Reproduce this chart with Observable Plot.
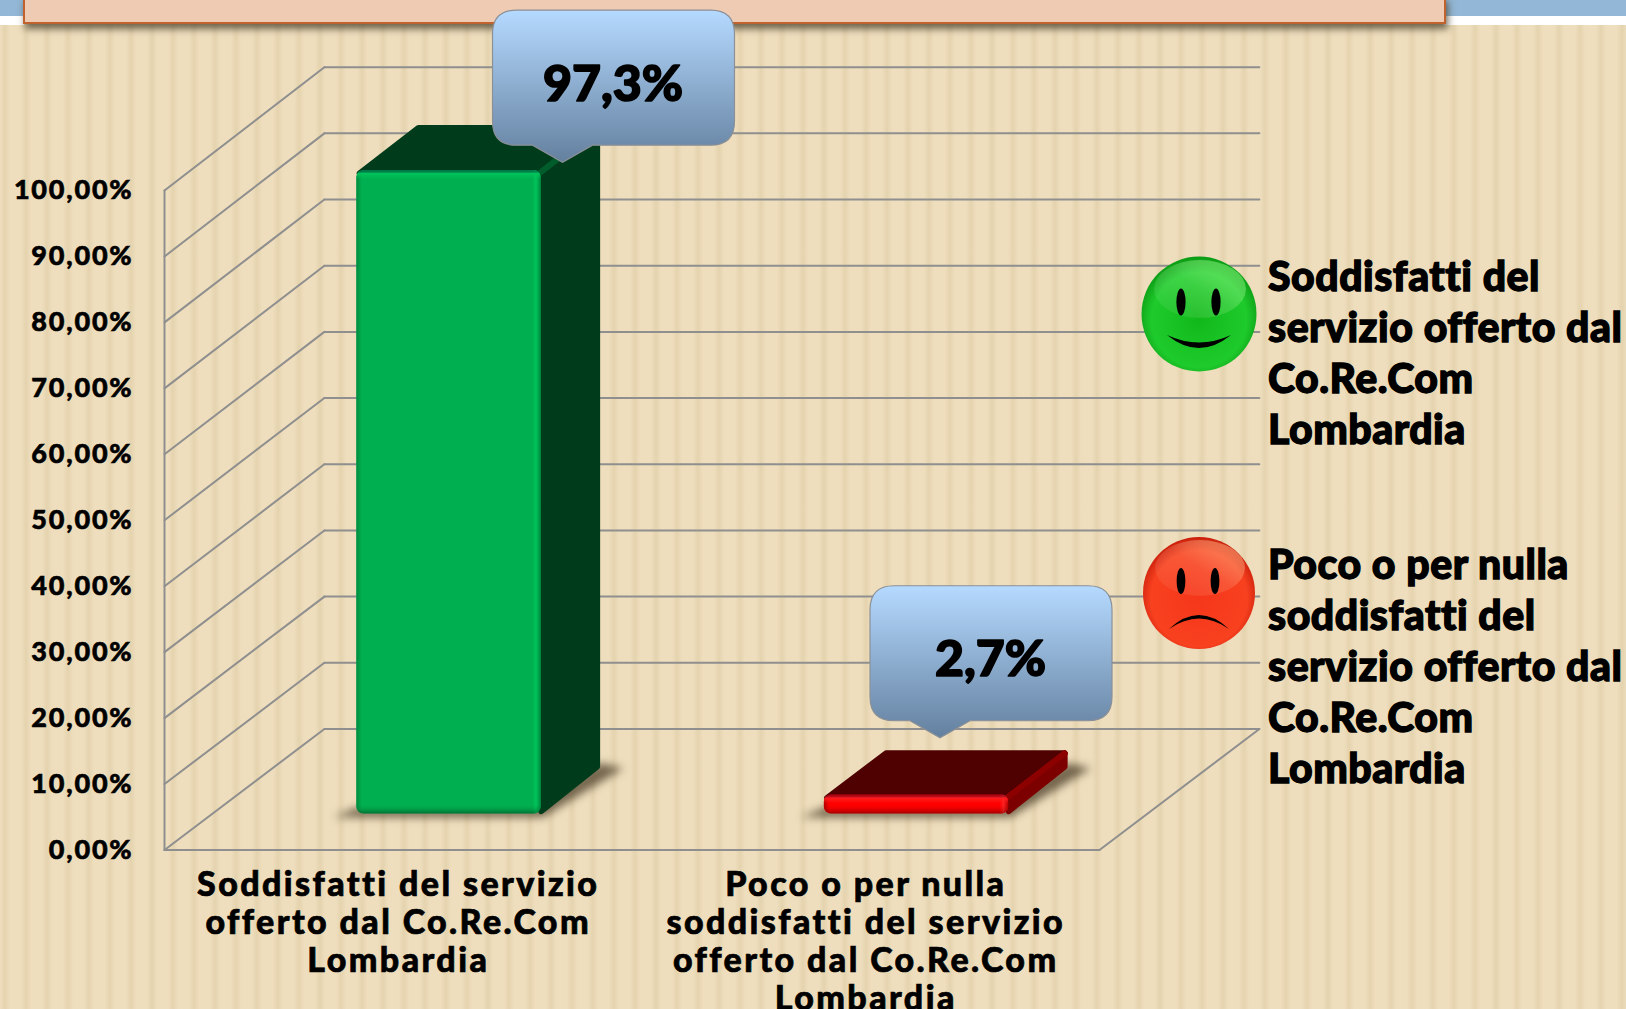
<!DOCTYPE html>
<html lang="it">
<head>
<meta charset="utf-8">
<script src="https://cdn.jsdelivr.net/npm/d3@7"></script>
<script src="https://cdn.jsdelivr.net/npm/@observablehq/plot@0.6"></script>
<style>
html,body{margin:0;padding:0;}
#page{position:relative;width:1626px;height:1009px;overflow:hidden;
  background-color:#eedebd;
  background-image:repeating-linear-gradient(90deg,rgba(208,186,140,0) 0,rgba(208,186,140,.30) 5px,rgba(208,186,140,0) 10px,rgba(208,186,140,0) 21px);}
#stripL,#stripR{position:absolute;top:0;height:16px;background:#93b7d6;border-bottom:9px solid #fff;}
#stripL{left:0;width:24px;} #stripR{left:1444px;right:0;}
#header{position:absolute;left:23px;top:-4px;width:1419px;height:24px;background:#efcbb4;border:2px solid #c0622d;box-shadow:2px 5px 7px rgba(70,60,40,.75);}
#chart{position:absolute;left:0;top:0;}
.legend{position:absolute;left:1268px;font:900 41px/51px Lato,sans-serif;color:#000;white-space:pre;-webkit-text-stroke:1.3px #000;letter-spacing:.5px;}
.face{position:absolute;}
g[aria-label="y-axis tick label"] text{letter-spacing:1.8px;stroke:#000;stroke-width:.6px;}
g[aria-label="x-axis tick label"] text{letter-spacing:2.4px;stroke:#000;stroke-width:.7px;}
</style>
</head>
<body>
<div id="page">
  <div id="stripL"></div><div id="stripR"></div><div id="header"></div>
  <div id="chart"></div>
  <svg class="face" style="left:1139px;top:254px" width="120" height="120" viewBox="-60 -60 120 120">
    <defs>
      <radialGradient id="gGreen" cx="50%" cy="55%" r="55%"><stop offset="0" stop-color="#12b81a"/><stop offset=".75" stop-color="#1ecb2c"/><stop offset="1" stop-color="#0c9a14"/></radialGradient>
      <linearGradient id="hlG" x1="0" y1="1" x2="1" y2="0"><stop offset="0" stop-color="#fff" stop-opacity=".03"/><stop offset=".5" stop-color="#d0ffc0" stop-opacity=".18"/><stop offset="1" stop-color="#80ff70" stop-opacity=".6"/></linearGradient>
    </defs>
    <circle r="57.5" fill="url(#gGreen)"/>
    <ellipse cx="1" cy="-25" rx="46" ry="29" fill="url(#hlG)"/>
    <ellipse cx="-18" cy="-12" rx="4.6" ry="13.5" fill="#000"/>
    <ellipse cx="17" cy="-12" rx="4.6" ry="13.5" fill="#000"/>
    <path d="M-32,21 Q0,47 32,21 Q0,36 -32,21Z" fill="#000"/>
  </svg>
  <svg class="face" style="left:1139px;top:533px" width="120" height="120" viewBox="-60 -60 120 120">
    <defs>
      <radialGradient id="gRed" cx="50%" cy="55%" r="55%"><stop offset="0" stop-color="#f5361a"/><stop offset=".78" stop-color="#f8411f"/><stop offset="1" stop-color="#c91f0c"/></radialGradient>
      <linearGradient id="hlR" x1="0" y1="1" x2="1" y2="0"><stop offset="0" stop-color="#fff" stop-opacity=".03"/><stop offset=".5" stop-color="#ffd0b0" stop-opacity=".16"/><stop offset="1" stop-color="#ffc080" stop-opacity=".6"/></linearGradient>
    </defs>
    <circle r="56" fill="url(#gRed)"/>
    <ellipse cx="1" cy="-25" rx="45" ry="28" fill="url(#hlR)"/>
    <ellipse cx="-18" cy="-12" rx="4.4" ry="13" fill="#000"/>
    <ellipse cx="16" cy="-12" rx="4.4" ry="13" fill="#000"/>
    <path d="M-30,36 Q0,8 30,36 Q0,15 -30,36Z" fill="#000"/>
  </svg>
  <div class="legend" id="leg1" style="top:250px"></div>
  <div class="legend" id="leg2" style="top:538px"></div>
</div>
<script>
// ---- data ----
const categories = [
  "Soddisfatti del servizio\nofferto dal Co.Re.Com\nLombardia",
  "Poco o per nulla\nsoddisfatti del servizio\nofferto dal Co.Re.Com\nLombardia"
];
const values = [97.3, 2.7];
const valueLabels = ["97,3%", "2,7%"];
const yTicks = [0, 10, 20, 30, 40, 50, 60, 70, 80, 90, 100];
const legendTexts = [
  "Soddisfatti del\nservizio offerto dal\nCo.Re.Com\nLombardia",
  "Poco o per nulla\nsoddisfatti del\nservizio offerto dal\nCo.Re.Com\nLombardia"
];

document.getElementById("leg1").textContent = legendTexts[0];
document.getElementById("leg2").textContent = legendTexts[1];

// ---- oblique projection: category, value, depth (0 front wall .. 1 back wall) ----
const DX = 0.342, DY = 18.35;
const proj = (c, v, d) => ({x: c + d * DX, y: v * (1 + 0.0035 * d) + d * DY});
const D0 = 0.297, D1 = 0.665, HALF = 0.197, SHIFT = 0.007, BEVEL = 0.2;
const INK = "#8f8f8f";
const FONT = "Lato, sans-serif";

const poly = (pts, fill, opts = {}) =>
  Plot.line(pts, {x: "x", y: "y", curve: "linear-closed", fill, stroke: opts.stroke ?? fill, strokeWidth: opts.sw ?? 6, strokeLinejoin: "round", ...opts.extra});
const seg = (a, b, stroke = INK, strokeWidth = 2, extra = {}) =>
  Plot.line([a, b], {x: "x", y: "y", stroke, strokeWidth, ...extra});

const palettes = [
  {front: "#00b050", top: "#003c1b", side: "#003c1b", ridge: "#005c2a", id: "g", edge: "#008a3e", light: "#00c45a"},
  {front: "#ff0000", top: "#4f0000", side: "#7c0000", ridge: "#8c0000", id: "r", edge: "#b80000", light: "#ff2020"}
];
const tipOffsets = [[114, -9], [24, -58]];

function bar(i) {
  const c = i + 0.5 + SHIFT, x0 = c - HALF, x1 = c + HALF, v = values[i] + BEVEL, p = palettes[i];
  const inX = 0.006, inV = 0.45;
  const f = proj(0, 0, D0), ft = proj(0, v, D0);
  return [
    // soft floor shadow
    Plot.line([
      proj(x0 - 0.05, -0.5, D0), proj(x1 + 0.004, -0.5, D0), proj(x1 + 0.05, 0.2, D1),
      proj(x1, 1, D1), proj(x1 - 0.02, 1, D0), proj(x0, 1, D0)
    ], {x: "x", y: "y", curve: "linear-closed", fill: "#4b3d28", fillOpacity: 0.75, stroke: "none", imageFilter: "blur(4.5px)"}),
    // top face
    poly([proj(x0 + inX, v - inV, D0), proj(x1 - inX, v - inV, D0), proj(x1 - inX, v - inV, D1), proj(x0 + inX, v - inV, D1)], p.top),
    // side face
    poly([proj(x1, inV, D0), proj(x1, v - inV, D0), proj(x1 - inX, v - inV, D1), proj(x1 - inX, inV, D1)], p.side),
    // ridge between top and side
    seg(proj(x1 - 0.004, v - inV, D0), proj(x1 - inX, v - inV, D1), p.ridge, 6),
    // front face with bevelled edges
    Plot.rect([v], {x1: () => f.x + x0, x2: () => f.x + x1, y1: () => f.y, y2: () => ft.y, rx: 7, fill: p.front}),
    Plot.rect([v], {x1: () => f.x + x0, x2: () => f.x + x1, y1: () => f.y, y2: () => ft.y, rx: 7, fill: `url(#h${p.id})`}),
    Plot.rect([v], {x1: () => f.x + x0, x2: () => f.x + x1, y1: () => f.y, y2: () => ft.y, rx: 7, fill: `url(#v${p.id})`})
  ];
}

function defsMark() {
  const ns = "http://www.w3.org/2000/svg";
  const defs = document.createElementNS(ns, "defs");
  const stops = (list) => list.map(([o, c, a]) => `<stop offset="${o}" stop-color="${c}" stop-opacity="${a}"/>`).join("");
  let html = `<linearGradient id="bubble" x1="0" y1="0" x2="0" y2="1">${stops([[0, "#b5daff", 1], [1, "#64809f", 1]])}</linearGradient>`;
  palettes.forEach((p, i) => {
    const hPx = (values[i] + BEVEL) * 6.6, t = 9 / hPx;
    html += `<linearGradient id="h${p.id}" x1="0" y1="0" x2="1" y2="0">${stops([[0, p.edge, 1], [.03, p.edge, 0], [.955, p.light, 0], [.975, p.light, 1], [1, p.edge, 1]])}</linearGradient>`;
    html += `<linearGradient id="v${p.id}" x1="0" y1="0" x2="0" y2="1">${stops([[0, "#003", .28], [t * .4, p.light, .9], [t, p.light, 0], [1 - t, p.edge, 0], [1, "#000", .35]])}</linearGradient>`;
  });
  defs.innerHTML = html;
  return defs;
}

function callouts(index, scales) {
  const ns = "http://www.w3.org/2000/svg";
  const g = document.createElementNS(ns, "g");
  values.forEach((v, i) => {
    const top = proj(i + 0.5 + SHIFT, v, D0);
    const tx = scales.x(top.x) + tipOffsets[i][0], ty = scales.y(top.y) + tipOffsets[i][1];
    const L = tx - 70, R = tx + 172, T = ty - 152, B = ty - 17, r = 24;
    const path = document.createElementNS(ns, "path");
    path.setAttribute("d",
      `M${L + r},${T}H${R - r}Q${R},${T} ${R},${T + r}V${B - r}Q${R},${B} ${R - r},${B}` +
      `H${tx + 30}L${tx},${ty}L${tx - 30},${B}H${L + r}Q${L},${B} ${L},${B - r}V${T + r}Q${L},${T} ${L + r},${T}Z`);
    path.setAttribute("fill", "url(#bubble)");
    path.setAttribute("stroke", "#8b9097");
    path.setAttribute("stroke-width", "1.2");
    g.appendChild(path);
  });
  return g;
}

const labelMarks = values.map((v, i) => {
  const top = proj(i + 0.5 + SHIFT, v, D0);
  return Plot.text([valueLabels[i]], {
    x: () => top.x, y: () => top.y, text: d => d,
    dx: tipOffsets[i][0] + 50, dy: tipOffsets[i][1] - 78,
    fontSize: 50, fontWeight: 900, fontFamily: FONT, fill: "#000", stroke: "#000", strokeWidth: 1.6
  });
});

const wallLines = yTicks.flatMap(t => [
  seg(proj(0, t, 1), proj(2, t, 1)),
  seg(proj(0, t, 0), proj(0, t, 1))
]);

const chart = Plot.plot({
  width: 1626, height: 1009,
  marginLeft: 164, marginRight: 527, marginTop: 190, marginBottom: 159.5,
  style: {background: "transparent", overflow: "visible"},
  x: {domain: [0, 2], axis: null},
  y: {domain: [0, 100], axis: null},
  marks: [
    defsMark,
    wallLines,
    seg(proj(0, 0, 0), proj(0, 100, 0)),
    seg(proj(0, 0, 0), proj(2, 0, 0)),
    seg(proj(2, 0, 0), proj(2, 0, 1)),
    Plot.axisY(yTicks, {
      tickSize: 0, tickPadding: 31, tickFormat: d => d3.format(".2f")(d).replace(".", ",") + "%",
      label: null, fontSize: 27, fontWeight: 900, fontFamily: FONT, fill: "#000"
    }),
    Plot.axisX([0.5, 1.5], {
      tickSize: 0, tickPadding: 19, tickFormat: d => categories[d - 0.5],
      label: null, fontSize: 34, fontWeight: 900, fontFamily: FONT, fill: "#000", lineHeight: 1.115, lineAnchor: "top"
    }),
    bar(0), bar(1),
    callouts,
    labelMarks
  ]
});
document.getElementById("chart").appendChild(chart);
</script>
</body>
</html>
